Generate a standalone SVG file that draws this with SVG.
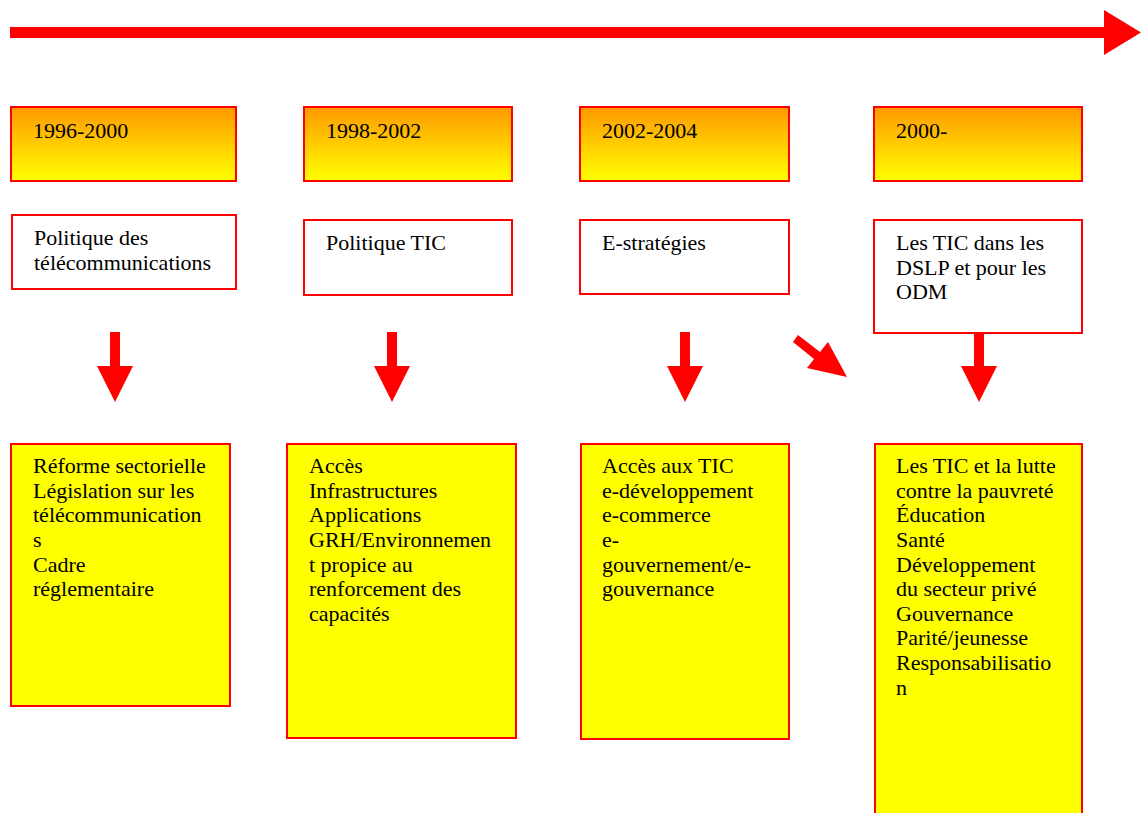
<svg xmlns="http://www.w3.org/2000/svg" width="1141" height="813" viewBox="0 0 1141 813">
<defs>
<linearGradient id="hdr" x1="0" y1="0" x2="0" y2="1">
<stop offset="0" stop-color="#FF9900"/>
<stop offset="1" stop-color="#FFFF00"/>
</linearGradient>
<style>
.hdr{fill:url(#hdr);stroke:#FF0000;stroke-width:2}
.wht{fill:#FFFFFF;stroke:#FF0000;stroke-width:2}
.yel{fill:#FFFF00;stroke:#FF0000;stroke-width:2}
text{font-family:"Liberation Serif","Times New Roman",serif;font-size:22px;fill:#000}
.arr{fill:#FF0000;stroke:none}
</style>
</defs>
<g id="timeline">
<polygon class="arr" points="10,27 1104,27 1104,10 1141,32.5 1104,55 1104,38 10,38"/>
</g>
<g id="h1"><rect class="hdr" x="11" y="107" width="225" height="74"/><text x="33" y="138">1996-2000</text></g>
<g id="h2"><rect class="hdr" x="304" y="107" width="208" height="74"/><text x="326" y="138">1998-2002</text></g>
<g id="h3"><rect class="hdr" x="580" y="107" width="209" height="74"/><text x="602" y="138">2002-2004</text></g>
<g id="h4"><rect class="hdr" x="874" y="107" width="208" height="74"/><text x="896" y="138">2000-</text></g>
<g id="p1"><rect class="wht" x="12" y="215" width="224" height="74"/><text x="34" y="245">Politique des</text><text x="34" y="270">télécommunications</text></g>
<g id="p2"><rect class="wht" x="304" y="220" width="208" height="75"/><text x="326" y="250">Politique TIC</text></g>
<g id="p3"><rect class="wht" x="580" y="220" width="209" height="74"/><text x="602" y="250">E-stratégies</text></g>
<g id="p4"><rect class="wht" x="874" y="220" width="208" height="113"/><text x="896" y="250">Les TIC dans les</text><text x="896" y="275">DSLP et pour les</text><text x="896" y="299">ODM</text></g>
<g id="connectors">
<polygon class="arr" points="110,332 120,332 120,366 133,366 115,402 97,366 110,366"/>
<polygon class="arr" points="387,332 397,332 397,366 410,366 392,402 374,366 387,366"/>
<polygon class="arr" points="680,332 690,332 690,366 703,366 685,402 667,366 680,366"/>
<polygon class="arr" points="974,333 984,333 984,366 997,366 979,402 961,366 974,366"/>
<polygon class="arr" points="798,335 820,352 828,342 847,377 807,368 814,359 793,342"/>
</g>
<g id="b1"><rect class="yel" x="11" y="444" width="219" height="262"/>
<text x="33" y="473">Réforme sectorielle</text><text x="33" y="498">Législation sur les</text><text x="33" y="522">télécommunication</text><text x="33" y="547">s</text><text x="33" y="572">Cadre</text><text x="33" y="596">réglementaire</text></g>
<g id="b2"><rect class="yel" x="287" y="444" width="229" height="294"/>
<text x="309" y="473">Accès</text><text x="309" y="498">Infrastructures</text><text x="309" y="522">Applications</text><text x="309" y="547">GRH/Environnemen</text><text x="309" y="572">t propice au</text><text x="309" y="596">renforcement des</text><text x="309" y="621">capacités</text></g>
<g id="b3"><rect class="yel" x="581" y="444" width="208" height="295"/>
<text x="602" y="473">Accès aux TIC</text><text x="602" y="498">e-développement</text><text x="602" y="522">e-commerce</text><text x="602" y="547">e-</text><text x="602" y="572">gouvernement/e-</text><text x="602" y="596">gouvernance</text></g>
<g id="b4"><rect class="yel" x="875" y="444" width="207" height="380"/>
<text x="896" y="473">Les TIC et la lutte</text><text x="896" y="498">contre la pauvreté</text><text x="896" y="522">Éducation</text><text x="896" y="547">Santé</text><text x="896" y="572">Développement</text><text x="896" y="596">du secteur privé</text><text x="896" y="621">Gouvernance</text><text x="896" y="645">Parité/jeunesse</text><text x="896" y="670">Responsabilisatio</text><text x="896" y="695">n</text></g>
</svg>
